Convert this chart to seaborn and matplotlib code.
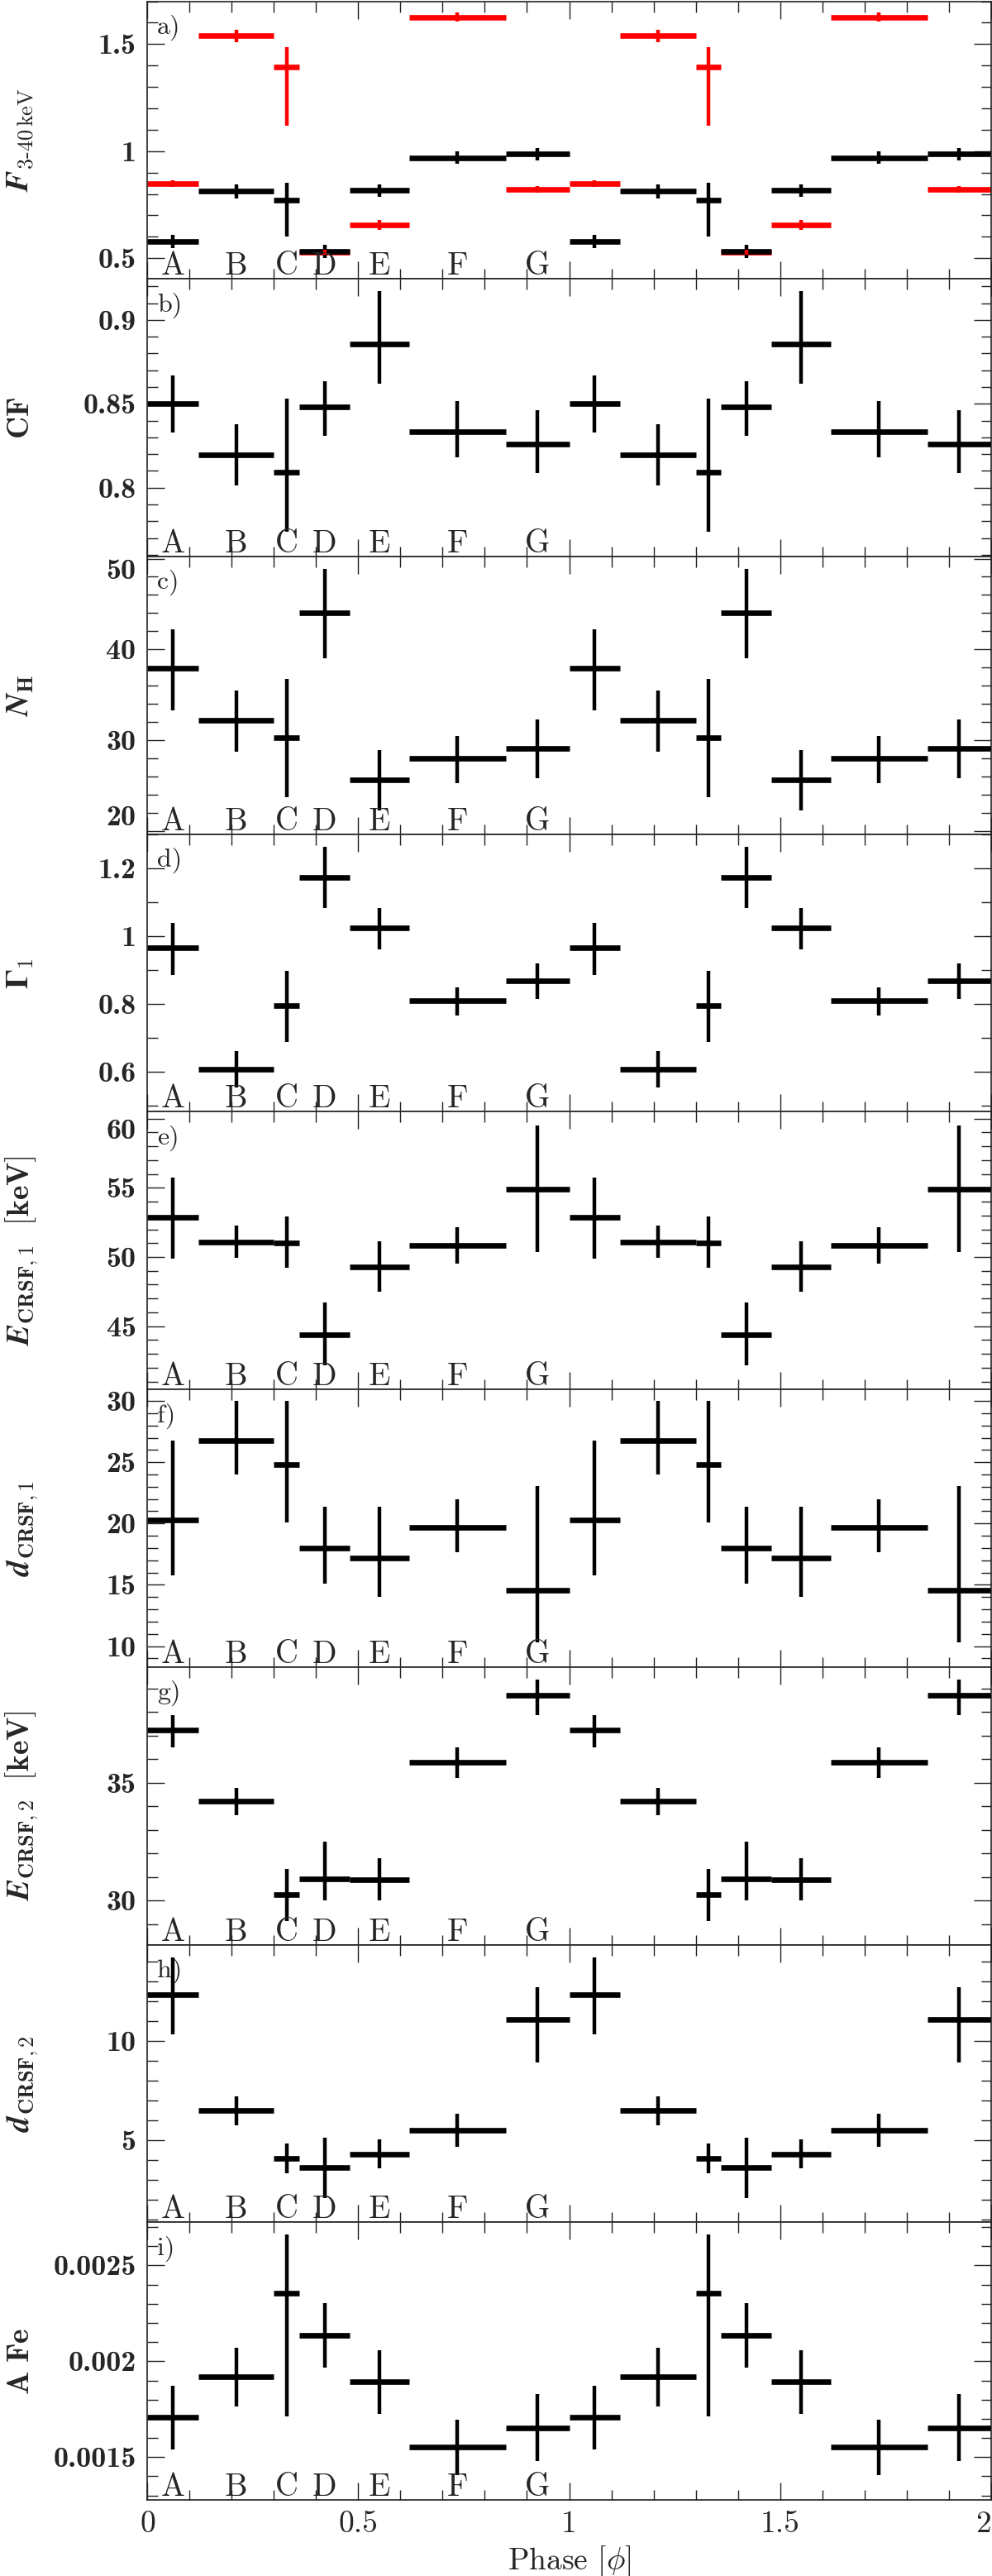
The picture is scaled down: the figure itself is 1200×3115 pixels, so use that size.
import numpy as np
import matplotlib
matplotlib.use("Agg")
import matplotlib.pyplot as plt
import matplotlib.ticker as mticker
import matplotlib.transforms as mtransforms
import seaborn as sns

# ----------------------
# Phase bins (one pulse cycle, plotted twice)
# ----------------------
bin_names = ["A", "B", "C", "D", "E", "F", "G"]
bin_lo = [0.00, 0.12, 0.30, 0.36, 0.48, 0.62, 0.85]
bin_hi = [0.12, 0.30, 0.36, 0.48, 0.62, 0.85, 1.00]

# a) flux 3-40 keV (two data sets)
flux_red = [0.848, 1.539, 1.393, 0.528, 0.655, 1.626, 0.821]
flux_red_lo = [0.831, 1.510, 1.120, 0.518, 0.631, 1.605, 0.805]
flux_red_hi = [0.865, 1.568, 1.486, 0.538, 0.679, 1.647, 0.837]
flux_blk = [0.577, 0.812, 0.771, 0.532, 0.816, 0.970, 0.986]
flux_blk_lo = [0.547, 0.779, 0.601, 0.502, 0.787, 0.941, 0.956]
flux_blk_hi = [0.607, 0.845, 0.852, 0.562, 0.845, 0.999, 1.016]

# b) covering fraction
cf = [0.850, 0.8195, 0.8093, 0.848, 0.8854, 0.8334, 0.826]
cf_lo = [0.833, 0.8016, 0.774, 0.8308, 0.862, 0.8180, 0.809]
cf_hi = [0.867, 0.838, 0.853, 0.8636, 0.917, 0.8516, 0.846]

# c) column density
nh = [37.9, 32.2, 30.3, 44.0, 25.6, 27.96, 29.1]
nh_lo = [33.3, 28.7, 23.7, 39.0, 22.3, 25.3, 25.8]
nh_hi = [42.2, 35.5, 36.7, 48.9, 28.9, 30.5, 32.3]

# d) photon index
gam = [0.965, 0.608, 0.795, 1.174, 1.024, 0.809, 0.868]
gam_lo = [0.886, 0.553, 0.688, 1.083, 0.961, 0.767, 0.815]
gam_hi = [1.040, 0.662, 0.897, 1.264, 1.084, 0.850, 0.920]

# e) CRSF 1 energy
e1 = [52.84, 51.09, 51.0, 44.37, 49.27, 50.83, 54.9]
e1_lo = [49.9, 49.92, 49.2, 42.2, 47.46, 49.52, 50.36]
e1_hi = [55.75, 52.24, 52.94, 46.7, 51.13, 52.14, 59.52]

# f) CRSF 1 depth
d1 = [20.31, 26.79, 24.83, 18.0, 17.21, 19.71, 14.54]
d1_lo = [15.78, 23.98, 20.09, 15.08, 14.0, 17.69, 10.31]
d1_hi = [26.79, 30.0, 30.0, 21.39, 21.39, 21.96, 23.08]

# g) CRSF 2 energy
e2 = [37.23, 34.21, 30.25, 30.92, 30.88, 35.89, 38.71]
e2_lo = [36.49, 33.63, 29.12, 30.0, 30.0, 35.2, 37.88]
e2_hi = [37.88, 34.77, 31.35, 32.5, 31.8, 36.49, 39.4]

# h) CRSF 2 depth
d2 = [12.32, 6.5, 4.08, 3.6, 4.29, 5.5, 11.06]
d2_lo = [10.31, 5.75, 3.33, 2.08, 3.57, 4.65, 8.89]
d2_hi = [14.19, 7.21, 4.82, 5.125, 5.03, 6.31, 12.71]

# i) iron line norm
afe = [0.00171, 0.001921, 0.002355, 0.002134, 0.001894, 0.001552, 0.001654]
afe_lo = [0.001539, 0.001764, 0.001714, 0.001966, 0.001726, 0.001405, 0.00148]
afe_hi = [0.001872, 0.002072, 0.00266, 0.002302, 0.002057, 0.001695, 0.001829]

# ----------------------
# Style
# ----------------------
sns.set_style("ticks")
plt.rcParams["font.family"] = ["cmr10", "DejaVu Serif"]
plt.rcParams["mathtext.fontset"] = "cm"
plt.rcParams["axes.unicode_minus"] = False
plt.rcParams["axes.formatter.use_mathtext"] = True
plt.rcParams["axes.edgecolor"] = "#222222"
plt.rcParams["axes.linewidth"] = 1.2

panels = [
    ("a)", r"$\mathbfit{F}_{\mathrm{3}\text{-}\mathrm{40\,keV}}$", (0.403, 1.70), 0.5, 0.1,
     [(flux_red, flux_red_lo, flux_red_hi, "#ff0000"), (flux_blk, flux_blk_lo, flux_blk_hi, "black")]),
    ("b)", r"$\mathbf{CF}$", (0.759, 0.9244), 0.05, 0.01, [(cf, cf_lo, cf_hi, "black")]),
    ("c)", r"$\mathbfit{N}_{\mathbf{H}}$", (19.64, 50.23), 10, 2, [(nh, nh_lo, nh_hi, "black")]),
    ("d)", r"$\mathbf{Γ_1}$", (0.482, 1.301), 0.2, 0.1, [(gam, gam_lo, gam_hi, "black")]),
    ("e)", r"$\mathbfit{E}_{\mathbf{CRSF,1}}\ \ \mathbf{[keV]}$", (40.43, 60.49), 5, 1, [(e1, e1_lo, e1_hi, "black")]),
    ("f)", r"$\mathbfit{d}_{\mathbf{CRSF,1}}$", (8.29, 30.94), 5, 1, [(d1, d1_lo, d1_hi, "black")]),
    ("g)", r"$\mathbfit{E}_{\mathbf{CRSF,2}}\ \ \mathbf{[keV]}$", (28.12, 39.92), 5, 1, [(e2, e2_lo, e2_hi, "black")]),
    ("h)", r"$\mathbfit{d}_{\mathbf{CRSF,2}}$", (0.85, 14.85), 5, 1, [(d2, d2_lo, d2_hi, "black")]),
    ("i)", r"$\mathbf{A\ Fe}$", (0.001277, 0.002725), 0.0005, 0.0001, [(afe, afe_lo, afe_hi, "black")]),
]

fig, axes = plt.subplots(len(panels), 1, figsize=(12, 31.15), dpi=100, sharex=True)
fig.subplots_adjust(left=0.1487, right=0.9988, top=0.9995, bottom=0.02953, hspace=0)

lo_arr = np.array(bin_lo)
hi_arr = np.array(bin_hi)

for ax, (tag, ylab, ylim, major, minor, series) in zip(axes, panels):
    # horizontal bars first, then the error bars (red on top)
    for shift in (0, 1):
        for val, lo, hi, col in series:
            ax.hlines(val, lo_arr + shift, hi_arr + shift, color=col, lw=4.8, capstyle="butt", zorder=2)
    for shift in (0, 1):
        for val, lo, hi, col in reversed(series):
            xc = (lo_arr + hi_arr) / 2 + shift
            ax.vlines(xc, lo, hi, color=col, lw=3.2, zorder=3)

    ax.set_xlim(0, 2)
    ax.set_ylim(*ylim)
    ax.yaxis.set_major_locator(mticker.MultipleLocator(major))
    ax.yaxis.set_minor_locator(mticker.MultipleLocator(minor))
    ax.xaxis.set_major_locator(mticker.MultipleLocator(0.5))
    ax.xaxis.set_minor_locator(mticker.MultipleLocator(0.1))
    ax.yaxis.set_major_formatter(mticker.FuncFormatter(lambda v, p: f"{v:g}"))
    ax.xaxis.set_major_formatter(mticker.FuncFormatter(lambda v, p: f"{v:g}"))

    ax.tick_params(which="both", direction="in", top=True, right=True, width=1.0, color="#222222")
    ax.tick_params(which="major", length=15)
    ax.tick_params(which="minor", length=9)
    ax.tick_params(axis="y", labelsize=26, pad=10, labelfontfamily="cmb10")
    ax.tick_params(axis="x", labelsize=27, pad=9)

    ax.set_ylabel(ylab, fontsize=27, va="baseline")
    ax.yaxis.set_label_coords(-0.1407, 0.5)

    # panel tag and bin letters
    ax.text(0.011, 0.952, tag, transform=ax.transAxes, ha="left", va="top", fontsize=23)
    trans = mtransforms.blended_transform_factory(ax.transData, ax.transAxes)
    for name, a, b in zip(bin_names, bin_lo, bin_hi):
        ax.text((a + b) / 2, 0.015, name, transform=trans, ha="center", va="baseline", fontsize=28)

    # keep the edge tick labels inside the panel
    locs = ax.yaxis.get_majorticklocs()
    ticks = ax.yaxis.get_major_ticks(len(locs))
    for loc, t in zip(locs, ticks):
        frac = (loc - ylim[0]) / (ylim[1] - ylim[0])
        if 0 <= frac < 0.03:
            t.label1.set_va("bottom")
        elif 0.97 < frac <= 1:
            t.label1.set_va("top")

axes[-1].set_xlabel(r"Phase [$\phi$]", fontsize=27, labelpad=6)

# last phase label sits flush with the right edge
xlocs = axes[-1].xaxis.get_majorticklocs()
xticks = axes[-1].xaxis.get_major_ticks(len(xlocs))
for loc, t in zip(xlocs, xticks):
    if loc >= 2:
        t.label1.set_ha("right")

fig.savefig("out.png", dpi=100)
